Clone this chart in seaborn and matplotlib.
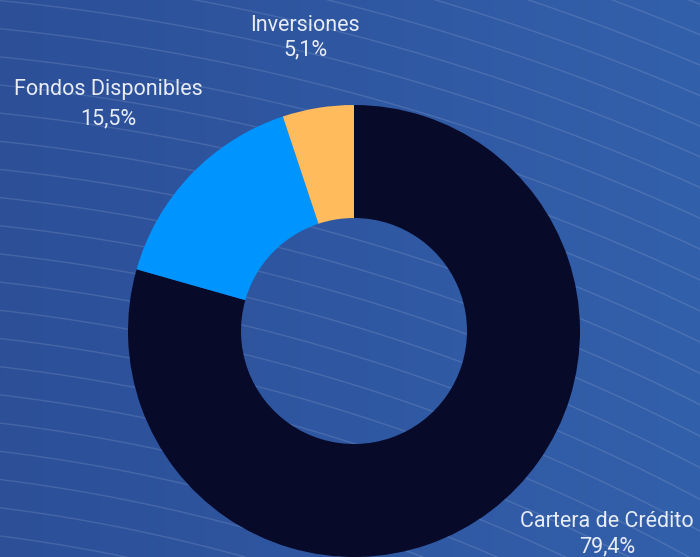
import numpy as np
import matplotlib
matplotlib.use("Agg")
import matplotlib.pyplot as plt
from matplotlib.colors import LinearSegmentedColormap
import seaborn as sns

# ---- data ----
categories = ["Cartera de Crédito", "Fondos Disponibles", "Inversiones"]
values = [79.4, 15.5, 5.1]
value_labels = ["79,4%", "15,5%", "5,1%"]
colors = ["#080a2a", "#0094ff", "#ffbb5c"]

sns.set_style("white")
plt.rcParams["font.family"] = ["Roboto", "DejaVu Sans"]

W, H = 700, 557
fig = plt.figure(figsize=(W / 100, H / 100), dpi=100)

# background axes in pixel coordinates
bg = fig.add_axes([0, 0, 1, 1])
bg.set_xlim(0, W)
bg.set_ylim(H, 0)
bg.axis("off")
grad = np.linspace(0, 1, 256).reshape(1, -1)
cmap = LinearSegmentedColormap.from_list("bgc", ["#2c4f98", "#3360ab"])
bg.imshow(grad, extent=(0, W, H, 0), aspect="auto", cmap=cmap, zorder=0)

# decorative concentric arcs
cx, cy = -217, 2218
t = np.linspace(-np.pi, 0, 4000)
for r in np.arange(1500, 2400, 28):
    bg.plot(cx + r * np.cos(t), cy + r * np.sin(t), color="white",
            alpha=0.12, lw=1.0, zorder=1)

# donut
pie_ax = fig.add_axes([128 / W, (H - 331 - 226) / H, 452 / W, 452 / H])
pie_ax.set_facecolor("none")
pie_ax.pie(values, colors=colors, startangle=90, counterclock=False,
           radius=1.0, wedgeprops=dict(width=0.5, linewidth=0))
pie_ax.set_xlim(-1, 1)
pie_ax.set_ylim(-1, 1)
pie_ax.set_aspect("equal")
pie_ax.axis("off")

# labels (pixel coords: center x, baseline of name, baseline of value)
label_pos = {
    "Cartera de Crédito": (607, 527, 552),
    "Fondos Disponibles": (108, 95, 124),
    "Inversiones": (305, 31, 55),
}
txt_color = "#e8ecf4"
for cat, vl in zip(categories, value_labels):
    x, y1, y2 = label_pos[cat]
    bg.text(x, y1, cat, ha="center", va="baseline", fontsize=15.5,
            color=txt_color, zorder=5)
    bg.text(x, y2, vl, ha="center", va="baseline", fontsize=15.5,
            color=txt_color, zorder=5)

fig.savefig("out.png", dpi=100)
